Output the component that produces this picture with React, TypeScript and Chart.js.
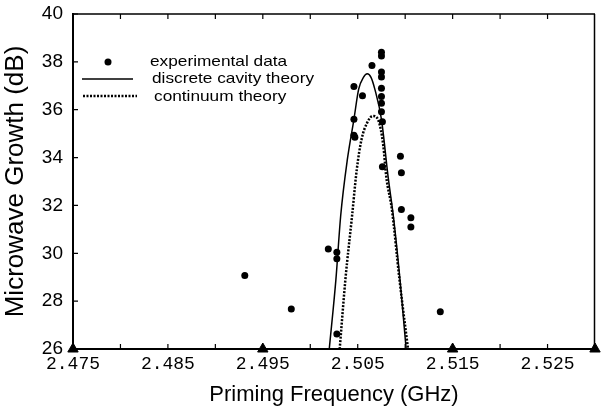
import React, { useEffect, useRef } from "react";
import { Chart, registerables } from "chart.js";

Chart.register(...registerables);

// Experimental data (GHz, dB)
const expX = [
  2.4931, 2.498, 2.5019, 2.5028, 2.5028, 2.5028, 2.5046, 2.5046, 2.5046, 2.5047,
  2.5055, 2.5065, 2.5075, 2.5075, 2.5075, 2.5075, 2.5075, 2.5075, 2.5075, 2.5075,
  2.5076, 2.5076, 2.5095, 2.5096, 2.5096, 2.5106, 2.5106, 2.5137,
];
const expY = [
  29.07, 27.67, 30.18, 30.04, 29.77, 26.63, 36.97, 35.6, 34.93, 34.85,
  36.58, 37.85, 38.4, 38.25, 37.58, 37.37, 36.9, 36.55, 36.27, 35.92,
  35.5, 33.62, 34.06, 33.37, 31.83, 31.49, 31.1, 27.56,
];

// Discrete cavity theory (solid)
const discreteX = [
  2.502, 2.5027, 2.5032, 2.5039, 2.5046, 2.5051, 2.5056, 2.506, 2.5064, 2.5068,
  2.5075, 2.5082, 2.5088, 2.5095, 2.5101,
];
const discreteY = [
  26, 28.9, 31.55, 33.9, 35.6, 36.86, 37.35, 37.5, 37.35, 36.86,
  35.6, 33.2, 31.4, 28.7, 26,
];

// Continuum theory (dotted)
const contX = [
  2.5031, 2.5037, 2.5044, 2.5049, 2.5054, 2.506, 2.5066, 2.5072, 2.5077, 2.508,
  2.5086, 2.5094, 2.5103,
];
const contY = [
  26, 28.9, 31.55, 33.5, 34.76, 35.46, 35.74, 35.53, 34.48, 33.22,
  31.83, 28.9, 26,
];

// Triangle markers on the frequency axis
const markerX = [2.475, 2.495, 2.515, 2.53];
const markerY = [26, 26, 26, 26];

const xTickValues = [2.475, 2.485, 2.495, 2.505, 2.515, 2.525];
const xMinorTicks = [
  2.475, 2.48, 2.485, 2.49, 2.495, 2.5, 2.505, 2.51, 2.515, 2.52, 2.525,
];
const yTickValues = [26, 28, 30, 32, 34, 36, 38, 40];
const legendLabels = ["experimental data", "discrete cavity theory", "continuum theory"];

const frameTicks = {
  id: "frameTicks",
  afterDraw(chart: any) {
    const { ctx, chartArea, scales } = chart;
    const { left, right, top, bottom } = chartArea;
    ctx.save();
    ctx.strokeStyle = "#000";
    ctx.lineWidth = 1.5;
    ctx.beginPath();
    ctx.moveTo(left, top);
    ctx.lineTo(right, top);
    ctx.moveTo(right - 0.5, top);
    ctx.lineTo(right - 0.5, bottom);
    ctx.stroke();
    ctx.lineWidth = 1.2;
    ctx.beginPath();
    xMinorTicks.forEach((v) => {
      const px = scales.x.getPixelForValue(v);
      ctx.moveTo(px, bottom);
      ctx.lineTo(px, bottom - 5);
      ctx.moveTo(px, top);
      ctx.lineTo(px, top + 5);
    });
    yTickValues.forEach((v) => {
      const py = scales.y.getPixelForValue(v);
      ctx.moveTo(left, py);
      ctx.lineTo(left + 5, py);
    });
    ctx.stroke();
    ctx.restore();
  },
};

const legendPlugin = {
  id: "customLegend",
  afterDraw(chart: any) {
    const { ctx } = chart;
    ctx.save();
    ctx.fillStyle = "#000";
    ctx.strokeStyle = "#000";
    ctx.beginPath();
    ctx.arc(108, 62, 3.5, 0, Math.PI * 2);
    ctx.fill();
    ctx.lineWidth = 1.5;
    ctx.beginPath();
    ctx.moveTo(82, 79);
    ctx.lineTo(133, 79);
    ctx.stroke();
    ctx.lineWidth = 2.5;
    ctx.setLineDash([2, 1.5]);
    ctx.beginPath();
    ctx.moveTo(83, 96);
    ctx.lineTo(137, 96);
    ctx.stroke();
    ctx.setLineDash([]);
    ctx.font = "15px 'Liberation Sans', Arial, sans-serif";
    ctx.textBaseline = "middle";
    const pos = [
      [150, 62],
      [152, 79],
      [154, 97],
    ];
    legendLabels.forEach((t, i) => {
      ctx.save();
      ctx.translate(pos[i][0], pos[i][1]);
      ctx.scale(1.15, 1);
      ctx.fillText(t, 0, 0);
      ctx.restore();
    });
    ctx.restore();
  },
};

export default function App() {
  const ref = useRef<HTMLCanvasElement>(null);
  useEffect(() => {
    if (!ref.current) return;
    const chart = new Chart(ref.current, {
      type: "scatter",
      data: {
        datasets: [
          {
            label: legendLabels[0],
            data: expX.map((x, i) => ({ x, y: expY[i] })),
            pointRadius: 3.5,
            pointBackgroundColor: "#000",
            pointBorderWidth: 0,
            showLine: false,
          },
          {
            label: legendLabels[1],
            data: discreteX.map((x, i) => ({ x, y: discreteY[i] })),
            showLine: true,
            borderColor: "#000",
            borderWidth: 1.5,
            pointRadius: 0,
            cubicInterpolationMode: "monotone",
          },
          {
            label: legendLabels[2],
            data: contX.map((x, i) => ({ x, y: contY[i] })),
            showLine: true,
            borderColor: "#000",
            borderWidth: 2.5,
            borderDash: [2, 1.5],
            pointRadius: 0,
            cubicInterpolationMode: "monotone",
          },
          {
            label: "markers",
            data: markerX.map((x, i) => ({ x, y: markerY[i] })),
            pointStyle: "triangle",
            pointRadius: 6,
            pointBackgroundColor: "#000",
            pointBorderColor: "#000",
            showLine: false,
            clip: false,
          } as any,
        ],
      },
      options: {
        responsive: false,
        animation: false,
        layout: { padding: { top: 14, right: 2, left: 0, bottom: 0 } },
        plugins: { legend: { display: false }, tooltip: { enabled: false } },
        scales: {
          x: {
            type: "linear",
            min: 2.475,
            max: 2.53,
            afterBuildTicks: (s: any) => {
              s.ticks = xTickValues.map((v) => ({ value: v }));
            },
            afterFit: (s: any) => {
              s.height = 61;
              s.paddingLeft = 0;
              s.paddingRight = 0;
            },
            ticks: {
              color: "#000",
              padding: 4,
              maxRotation: 0,
              autoSkip: false,
              font: { family: "'Liberation Mono', 'Courier New', monospace", size: 18 },
              callback: (v: any) => Number(v).toFixed(3),
            },
            grid: { display: false, drawTicks: false },
            border: { display: true, color: "#000", width: 2 },
            title: {
              display: true,
              text: "Priming Frequency (GHz)",
              color: "#000",
              font: { family: "'Liberation Sans', Arial, sans-serif", size: 22 },
              padding: { top: 0, bottom: 2 },
            },
          },
          y: {
            type: "linear",
            min: 26,
            max: 40,
            afterBuildTicks: (s: any) => {
              s.ticks = yTickValues.map((v) => ({ value: v }));
            },
            afterFit: (s: any) => {
              s.width = 73;
              s.paddingTop = 0;
              s.paddingBottom = 0;
            },
            ticks: {
              color: "#000",
              padding: 10,
              font: { family: "'Liberation Sans', Arial, sans-serif", size: 19 },
              callback: (v: any) => String(v),
            },
            grid: { display: false, drawTicks: false },
            border: { display: true, color: "#000", width: 2 },
            title: {
              display: true,
              text: "Microwave Growth (dB)",
              color: "#000",
              font: { family: "'Liberation Sans', Arial, sans-serif", size: 26 },
              padding: { top: 0, bottom: 0 },
            },
          },
        },
      },
      plugins: [frameTicks, legendPlugin],
    });
    return () => chart.destroy();
  }, []);
  return (
    <div style={{ position: "absolute", left: 0, top: 0, width: 602, height: 410, background: "#fff" }}>
      <canvas ref={ref} width={602} height={410} style={{ width: 602, height: 410 }} />
    </div>
  );
}
